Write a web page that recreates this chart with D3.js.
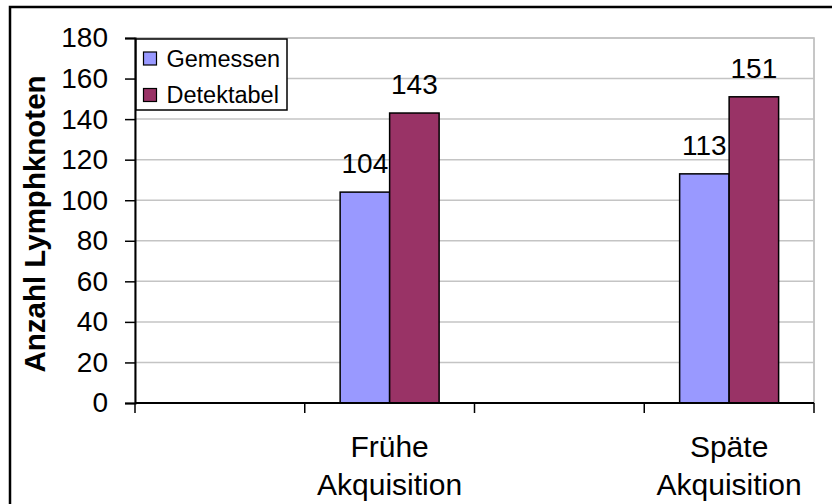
<!DOCTYPE html>
<html>
<head>
<meta charset="utf-8">
<script src="https://cdn.jsdelivr.net/npm/d3@7"></script>
<style>
  html, body { margin: 0; padding: 0; background: #fff; }
  svg { display: block; font-family: "Liberation Sans", Arial, sans-serif; }
</style>
</head>
<body>
<svg id="chart" width="832" height="504"></svg>
<script>
// ---- data ----
const categories = ["", "Frühe\nAkquisition", "", "Späte\nAkquisition"];
const seriesNames = ["Gemessen", "Detektabel"];
const gemessen = [null, 104, null, 113];
const detektabel = [null, 143, null, 151];
const yTicks = [0, 20, 40, 60, 80, 100, 120, 140, 160, 180];
const yTitle = "Anzahl Lymphknoten";
const colors = ["#9999ff", "#993366"];

(function () {
const svg = d3.select("#chart");

// outer chart border
svg.append("rect")
  .attr("x", 10).attr("y", 7).attr("width", 840).attr("height", 520)
  .attr("fill", "#fff").attr("stroke", "#000").attr("stroke-width", 2.5);

const pLeft = 135, pRight = 814, pTop = 38, pBottom = 403;

const x = d3.scaleBand().domain(d3.range(categories.length)).range([pLeft, pRight]).paddingInner(0).paddingOuter(0);
const xs = d3.scaleBand().domain(seriesNames).range([0, x.bandwidth()]).paddingInner(0).paddingOuter(0.715);
const y = d3.scaleLinear().domain([0, 180]).range([pBottom, pTop]);

// plot area border (gray top & right)
svg.append("rect")
  .attr("x", pLeft).attr("y", pTop).attr("width", pRight - pLeft).attr("height", pBottom - pTop)
  .attr("fill", "none").attr("stroke", "#b4b4b4").attr("stroke-width", 1.5);

// gridlines
svg.append("g").selectAll("line").data(yTicks.filter(d => d > 0)).join("line")
  .attr("x1", pLeft).attr("x2", pRight)
  .attr("y1", d => y(d)).attr("y2", d => y(d))
  .attr("stroke", "#c4c4c4").attr("stroke-width", 1.5);

// bars
const data = [];
categories.forEach((c, i) => {
  [gemessen, detektabel].forEach((arr, s) => {
    if (arr[i] != null) data.push({ i, s, v: arr[i] });
  });
});

svg.append("g").selectAll("rect").data(data).join("rect")
  .attr("x", d => x(d.i) + xs(seriesNames[d.s]))
  .attr("y", d => y(d.v))
  .attr("width", xs.bandwidth())
  .attr("height", d => y(0) - y(d.v))
  .attr("fill", d => colors[d.s])
  .attr("stroke", "#000").attr("stroke-width", 1.5);

// data labels
svg.append("g").selectAll("text").data(data).join("text")
  .attr("x", d => x(d.i) + xs(seriesNames[d.s]) + xs.bandwidth() / 2)
  .attr("y", d => y(d.v) - 19)
  .attr("text-anchor", "middle")
  .attr("font-size", 28)
  .attr("fill", "#000")
  .text(d => d.v);

// y axis
const yAxis = d3.axisLeft(y).tickValues(yTicks).tickSize(10).tickPadding(17);
const gy = svg.append("g").attr("transform", `translate(${pLeft},0)`).call(yAxis);
gy.select(".domain").attr("stroke", "#000").attr("stroke-width", 2);
gy.selectAll(".tick line").attr("stroke", "#000").attr("stroke-width", 1.5);
gy.selectAll(".tick text").attr("font-size", 28).attr("font-family", "Liberation Sans, Arial, sans-serif").attr("fill", "#000");

// x axis
svg.append("line").attr("x1", pLeft).attr("x2", pRight).attr("y1", pBottom).attr("y2", pBottom)
  .attr("stroke", "#000").attr("stroke-width", 2);
const boundaries = d3.range(categories.length + 1).map(i => i < categories.length ? x(i) : x(categories.length - 1) + x.bandwidth());
svg.append("g").selectAll("line").data(boundaries).join("line")
  .attr("x1", d => d).attr("x2", d => d)
  .attr("y1", pBottom).attr("y2", pBottom + 10)
  .attr("stroke", "#000").attr("stroke-width", 1.5);

// x labels
const xl = svg.append("g").selectAll("text").data(categories.map((c, i) => ({ c, i })).filter(d => d.c)).join("text")
  .attr("x", d => x(d.i) + x.bandwidth() / 2)
  .attr("y", 457)
  .attr("text-anchor", "middle")
  .attr("font-size", 30)
  .attr("fill", "#000");
xl.each(function(d) {
  const lines = d.c.split("\n");
  const t = d3.select(this);
  lines.forEach((ln, k) => {
    t.append("tspan").attr("x", x(d.i) + x.bandwidth() / 2).attr("dy", k === 0 ? 0 : 38).text(ln);
  });
});

// y title
svg.append("text")
  .attr("transform", `translate(45,224) rotate(-90)`)
  .attr("text-anchor", "middle")
  .attr("font-size", 29.5)
  .attr("font-weight", "bold")
  .attr("fill", "#000")
  .text(yTitle);

// legend
const lg = svg.append("g");
lg.append("rect").attr("x", 136).attr("y", 39).attr("width", 151).attr("height", 71)
  .attr("fill", "#fff").attr("stroke", "#000").attr("stroke-width", 1.5);
seriesNames.forEach((n, k) => {
  lg.append("rect").attr("x", 143.5).attr("y", 52 + k * 36.5).attr("width", 13).attr("height", 13)
    .attr("fill", colors[k]).attr("stroke", "#000").attr("stroke-width", 1.2);
  lg.append("text").attr("x", 166.5).attr("y", 66.5 + k * 36).attr("font-size", 23.5).attr("fill", "#000").text(n);
});
})();
</script>
</body>
</html>
